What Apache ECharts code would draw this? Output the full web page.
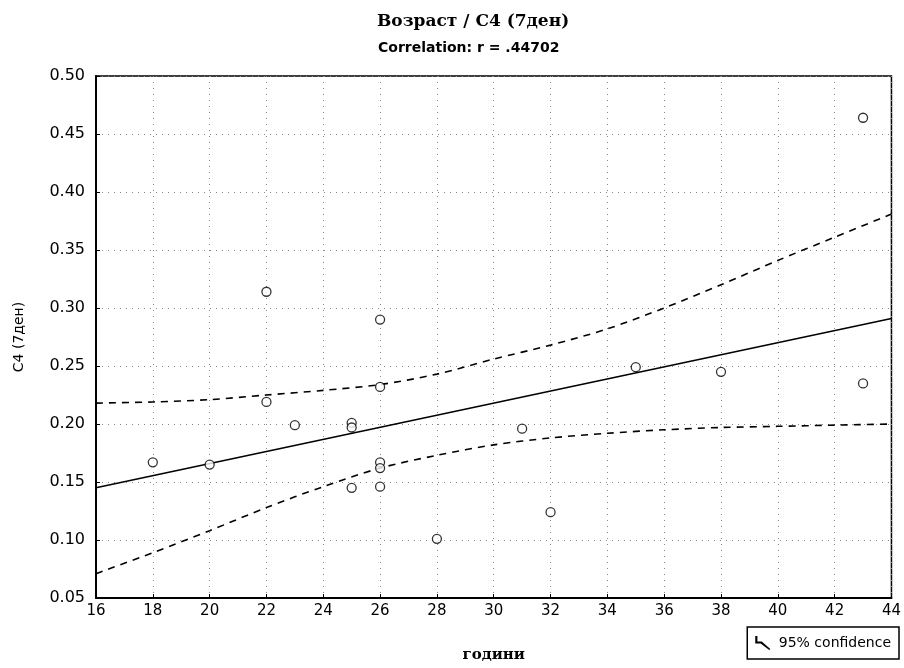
<!DOCTYPE html>
<html><head><meta charset="utf-8">
<script src="https://cdn.jsdelivr.net/npm/echarts@6/dist/echarts.min.js"></script>
<style>html,body{margin:0;padding:0;background:#fff}#c{width:904px;height:668px}</style>
</head><body><div id="c"></div>
<script>
const titleText = 'Возраст / C4 (7ден)';
const subtitleText = 'Correlation: r = .44702';
const xName = 'години';
const yName = 'C4 (7ден)';
const ages = [18,20,22,22,23,25,25,25,26,26,26,26,26,28,31,32,35,38,43,43];
const c4 = [0.167,0.165,0.314,0.219,0.199,0.201,0.197,0.145,0.290,0.232,0.167,0.162,0.146,0.101,0.196,0.124,0.249,0.245,0.464,0.235];
const fitX = [16,44];
const fitY = [0.145,0.291];
const ciX = [16,18,20,22,24,26,28,30,32,34,36,38,40,42,44];
const ciUpper = [0.218,0.219,0.221,0.225,0.229,0.234,0.243,0.256,0.268,0.282,0.300,0.320,0.341,0.361,0.381];
const ciLower = [0.071,0.089,0.108,0.128,0.146,0.162,0.173,0.182,0.188,0.192,0.195,0.197,0.198,0.199,0.200];
const legendLabel = '95% confidence';

const zip = (a,b) => a.map((v,i)=>[v,b[i]]);
const chart = echarts.init(document.getElementById('c'));
const dashStyle = {color:'#000', width:1.6, type:[7,6]};
chart.setOption({
  animation:false,
  backgroundColor:'#fff',
  title:[
    {text:titleText, left:372, top:8, textStyle:{fontFamily:'DejaVu Serif', fontSize:17, fontWeight:'bold', color:'#000'}},
    {text:subtitleText, left:373, top:36, textStyle:{fontFamily:'DejaVu Sans', fontSize:14, fontWeight:'bold', color:'#000'}}
  ],
  legend:{
    data:[{name:legendLabel, icon:'path://M0,0 L2,0 L2,5 L6,5 L14,12 L13,13 L5,7 L0,7 Z'}], right:5, top:627, orient:'horizontal',
    borderColor:'#000', borderWidth:1.5, padding:[9,8,9,8], itemWidth:22, itemHeight:14, itemGap:4,
    textStyle:{fontFamily:'DejaVu Sans', fontSize:14, color:'#000'}
  },
  grid:{left:96, right:7, top:76, bottom:70, show:true, borderColor:'#000', borderWidth:1.5},
  xAxis:{
    type:'value', min:16, max:44, interval:2,
    name:xName, nameLocation:'middle', nameGap:50,
    nameTextStyle:{fontFamily:'DejaVu Serif', fontSize:15, fontWeight:'bold', color:'#000'},
    axisLine:{show:true, lineStyle:{color:'#000', width:2}},
    axisTick:{show:true, inside:true, length:4, lineStyle:{color:'#000'}},
    axisLabel:{fontFamily:'DejaVu Sans', fontSize:15, color:'#000', margin:6},
    splitLine:{show:true, lineStyle:{color:'#888', type:[1,5], width:1}}
  },
  yAxis:{
    type:'value', min:0.05, max:0.50, interval:0.05,
    name:yName, nameLocation:'middle', nameGap:70, nameRotate:90,
    nameTextStyle:{fontFamily:'DejaVu Sans', fontSize:14, color:'#000'},
    axisLine:{show:true, lineStyle:{color:'#000', width:2}},
    axisTick:{show:true, inside:true, length:4, lineStyle:{color:'#000'}},
    axisLabel:{fontFamily:'DejaVu Sans', fontSize:16, color:'#000', margin:11, formatter:v=>v.toFixed(2)},
    splitLine:{show:true, lineStyle:{color:'#888', type:[1,5], width:1}}
  },
  series:[
    {type:'line', name:'fit', data:zip(fitX,fitY), showSymbol:false, lineStyle:{color:'#000', width:1.6}, z:3},
    {type:'line', name:legendLabel, data:zip(ciX,ciUpper), showSymbol:false, smooth:0.3, lineStyle:dashStyle, itemStyle:{color:'#000'}, z:3},
    {type:'line', name:legendLabel, data:zip(ciX,ciLower), showSymbol:false, smooth:0.3, lineStyle:dashStyle, itemStyle:{color:'#000'}, z:3},
    {type:'scatter', name:'points', data:zip(ages,c4), symbol:'circle', symbolSize:9,
      itemStyle:{color:'#fff', borderColor:'#000', borderWidth:1.3}, z:4}
  ]
});
</script></body></html>
